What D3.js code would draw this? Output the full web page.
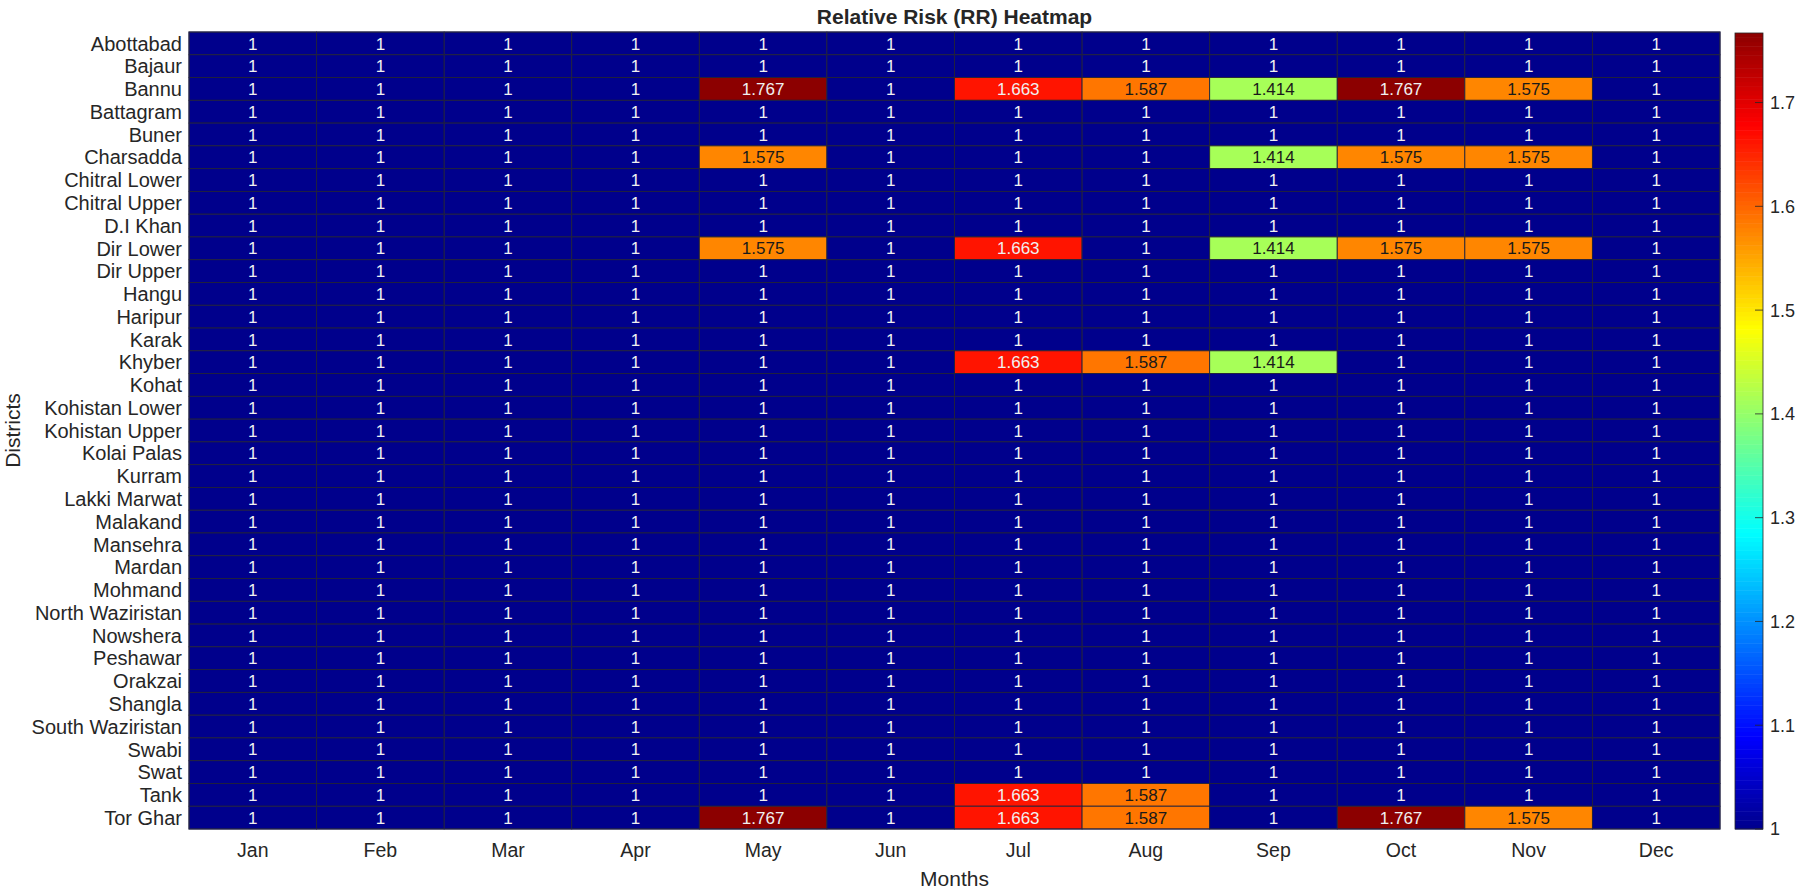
<!DOCTYPE html>
<html>
<head>
<meta charset="utf-8">
<script src="https://cdn.jsdelivr.net/npm/d3@7"></script>
<style>
  body { margin: 0; background: #fff; }
  svg { display: block; font-family: "Liberation Sans", Arial, sans-serif; }
</style>
</head>
<body>
<svg class="chart" width="1795" height="894"></svg>
<script>
const months = ["Jan", "Feb", "Mar", "Apr", "May", "Jun", "Jul", "Aug", "Sep", "Oct", "Nov", "Dec"];

const districts = [
  "Abottabad", "Bajaur", "Bannu", "Battagram", "Buner", "Charsadda",
  "Chitral Lower", "Chitral Upper", "D.I Khan", "Dir Lower", "Dir Upper",
  "Hangu", "Haripur", "Karak", "Khyber", "Kohat", "Kohistan Lower",
  "Kohistan Upper", "Kolai Palas", "Kurram", "Lakki Marwat", "Malakand",
  "Mansehra", "Mardan", "Mohmand", "North Waziristan", "Nowshera",
  "Peshawar", "Orakzai", "Shangla", "South Waziristan", "Swabi", "Swat",
  "Tank", "Tor Ghar"
];

// districts that differ from RR = 1 (every other cell is 1)
const bannu     = [1, 1, 1, 1, 1.767, 1, 1.663, 1.587, 1.414, 1.767, 1.575, 1];
const charsadda = [1, 1, 1, 1, 1.575, 1, 1, 1, 1.414, 1.575, 1.575, 1];
const dirLower  = [1, 1, 1, 1, 1.575, 1, 1.663, 1, 1.414, 1.575, 1.575, 1];
const khyber    = [1, 1, 1, 1, 1, 1, 1.663, 1.587, 1.414, 1, 1, 1];
const tank      = [1, 1, 1, 1, 1, 1, 1.663, 1.587, 1, 1, 1, 1];
const torGhar   = [1, 1, 1, 1, 1.767, 1, 1.663, 1.587, 1, 1.767, 1.575, 1];
const baseline  = [1, 1, 1, 1, 1, 1, 1, 1, 1, 1, 1, 1];

const special = {
  "Bannu": bannu, "Charsadda": charsadda, "Dir Lower": dirLower,
  "Khyber": khyber, "Tank": tank, "Tor Ghar": torGhar
};

const cbTicks = [1, 1.1, 1.2, 1.3, 1.4, 1.5, 1.6, 1.7];

const svg = d3.select(".chart");
const margin = { top: 32, left: 189, right: 1720, bottom: 829 };

const cells = [];
districts.forEach((d) => {
  const row = special[d] || baseline;
  months.forEach((m, i) => cells.push({ district: d, month: m, value: row[i] }));
});

const vmin = d3.min(cells, (d) => d.value);
const vmax = d3.max(cells, (d) => d.value);

// MATLAB-like jet colormap
function jet(t) {
  const c = (v) => Math.max(0, Math.min(1, v));
  const r = c(1.5 - Math.abs(4 * t - 3));
  const g = c(1.5 - Math.abs(4 * t - 2));
  const b = c(1.5 - Math.abs(4 * t - 1));
  return d3.rgb(r * 255, g * 255, b * 255);
}
const color = d3.scaleSequential((t) => jet(0.012 + t * 0.976)).domain([vmin, vmax]);

const x = d3.scaleBand().domain(months).range([margin.left, margin.right]);
const y = d3.scaleBand().domain(districts).range([margin.top, margin.bottom]);

// cells
svg.append("g")
  .selectAll("rect")
  .data(cells)
  .enter()
  .append("rect")
  .attr("x", (d) => x(d.month))
  .attr("y", (d) => y(d.district))
  .attr("width", x.bandwidth())
  .attr("height", y.bandwidth())
  .attr("fill", (d) => color(d.value))
  .attr("stroke", "#22223a")
  .attr("stroke-width", 0.9);

// cell labels
svg.append("g")
  .selectAll("text")
  .data(cells)
  .enter()
  .append("text")
  .attr("x", (d) => x(d.month) + x.bandwidth() / 2)
  .attr("y", (d) => y(d.district) + y.bandwidth() / 2)
  .attr("dy", ".36em")
  .attr("text-anchor", "middle")
  .style("font-size", "17px")
  .attr("fill", (d) => {
    const c = d3.rgb(color(d.value));
    const lum = 0.299 * c.r + 0.587 * c.g + 0.114 * c.b;
    return lum > 110 ? "#1a1a1a" : "#f0f0f0";
  })
  .text((d) => d3.format(".4~f")(d.value));

// frame
svg.append("rect")
  .attr("x", margin.left)
  .attr("y", margin.top)
  .attr("width", margin.right - margin.left)
  .attr("height", margin.bottom - margin.top)
  .attr("fill", "none")
  .attr("stroke", "#26264a")
  .attr("stroke-width", 1);

// y tick labels
svg.append("g")
  .selectAll("text")
  .data(districts)
  .enter()
  .append("text")
  .attr("x", margin.left - 7)
  .attr("y", (d) => y(d) + y.bandwidth() / 2)
  .attr("dy", ".36em")
  .attr("text-anchor", "end")
  .attr("fill", "#262626")
  .style("font-size", "20px")
  .text((d) => d);

// x tick labels
svg.append("g")
  .selectAll("text")
  .data(months)
  .enter()
  .append("text")
  .attr("x", (d) => x(d) + x.bandwidth() / 2)
  .attr("y", margin.bottom + 28)
  .attr("text-anchor", "middle")
  .attr("fill", "#262626")
  .style("font-size", "19.5px")
  .text((d) => d);

// axis titles
svg.append("text")
  .attr("x", (margin.left + margin.right) / 2)
  .attr("y", 886)
  .attr("text-anchor", "middle")
  .attr("fill", "#262626")
  .style("font-size", "21px")
  .text("Months");

svg.append("text")
  .attr("transform", `translate(20,${(margin.top + margin.bottom) / 2}) rotate(-90)`)
  .attr("text-anchor", "middle")
  .attr("fill", "#262626")
  .style("font-size", "21px")
  .text("Districts");

svg.append("text")
  .attr("x", (margin.left + margin.right) / 2)
  .attr("y", 24)
  .attr("text-anchor", "middle")
  .attr("fill", "#262626")
  .style("font-size", "21px")
  .style("font-weight", "bold")
  .text("Relative Risk (RR) Heatmap");

// colorbar
const cb = { x: 1735, w: 28, top: 33, bottom: 829 };
const cbScale = d3.scaleLinear().domain([vmin, vmax]).range([cb.bottom, cb.top]);
const steps = d3.range(0, 180);
svg.append("g")
  .selectAll("rect")
  .data(steps)
  .enter()
  .append("rect")
  .attr("x", cb.x)
  .attr("width", cb.w)
  .attr("y", (i) => cbScale(vmin + (vmax - vmin) * (i + 1) / steps.length))
  .attr("height", (cb.bottom - cb.top) / steps.length + 0.5)
  .attr("fill", (i) => color(vmin + (vmax - vmin) * (i + 0.5) / steps.length));

svg.append("rect")
  .attr("x", cb.x)
  .attr("y", cb.top)
  .attr("width", cb.w)
  .attr("height", cb.bottom - cb.top)
  .attr("fill", "none")
  .attr("stroke", "#262626")
  .attr("stroke-width", 0.8);

const cbAxis = svg.append("g");
cbAxis.selectAll("line")
  .data(cbTicks)
  .enter()
  .append("line")
  .attr("x1", cb.x + cb.w - 8)
  .attr("x2", cb.x + cb.w)
  .attr("y1", (d) => cbScale(d))
  .attr("y2", (d) => cbScale(d))
  .attr("stroke", "#262626")
  .attr("stroke-width", 0.8);

cbAxis.selectAll("text")
  .data(cbTicks)
  .enter()
  .append("text")
  .attr("x", cb.x + cb.w + 7)
  .attr("y", (d) => cbScale(d))
  .attr("dy", ".36em")
  .attr("fill", "#262626")
  .style("font-size", "18px")
  .text((d) => d3.format("~g")(d));
</script>
</body>
</html>
